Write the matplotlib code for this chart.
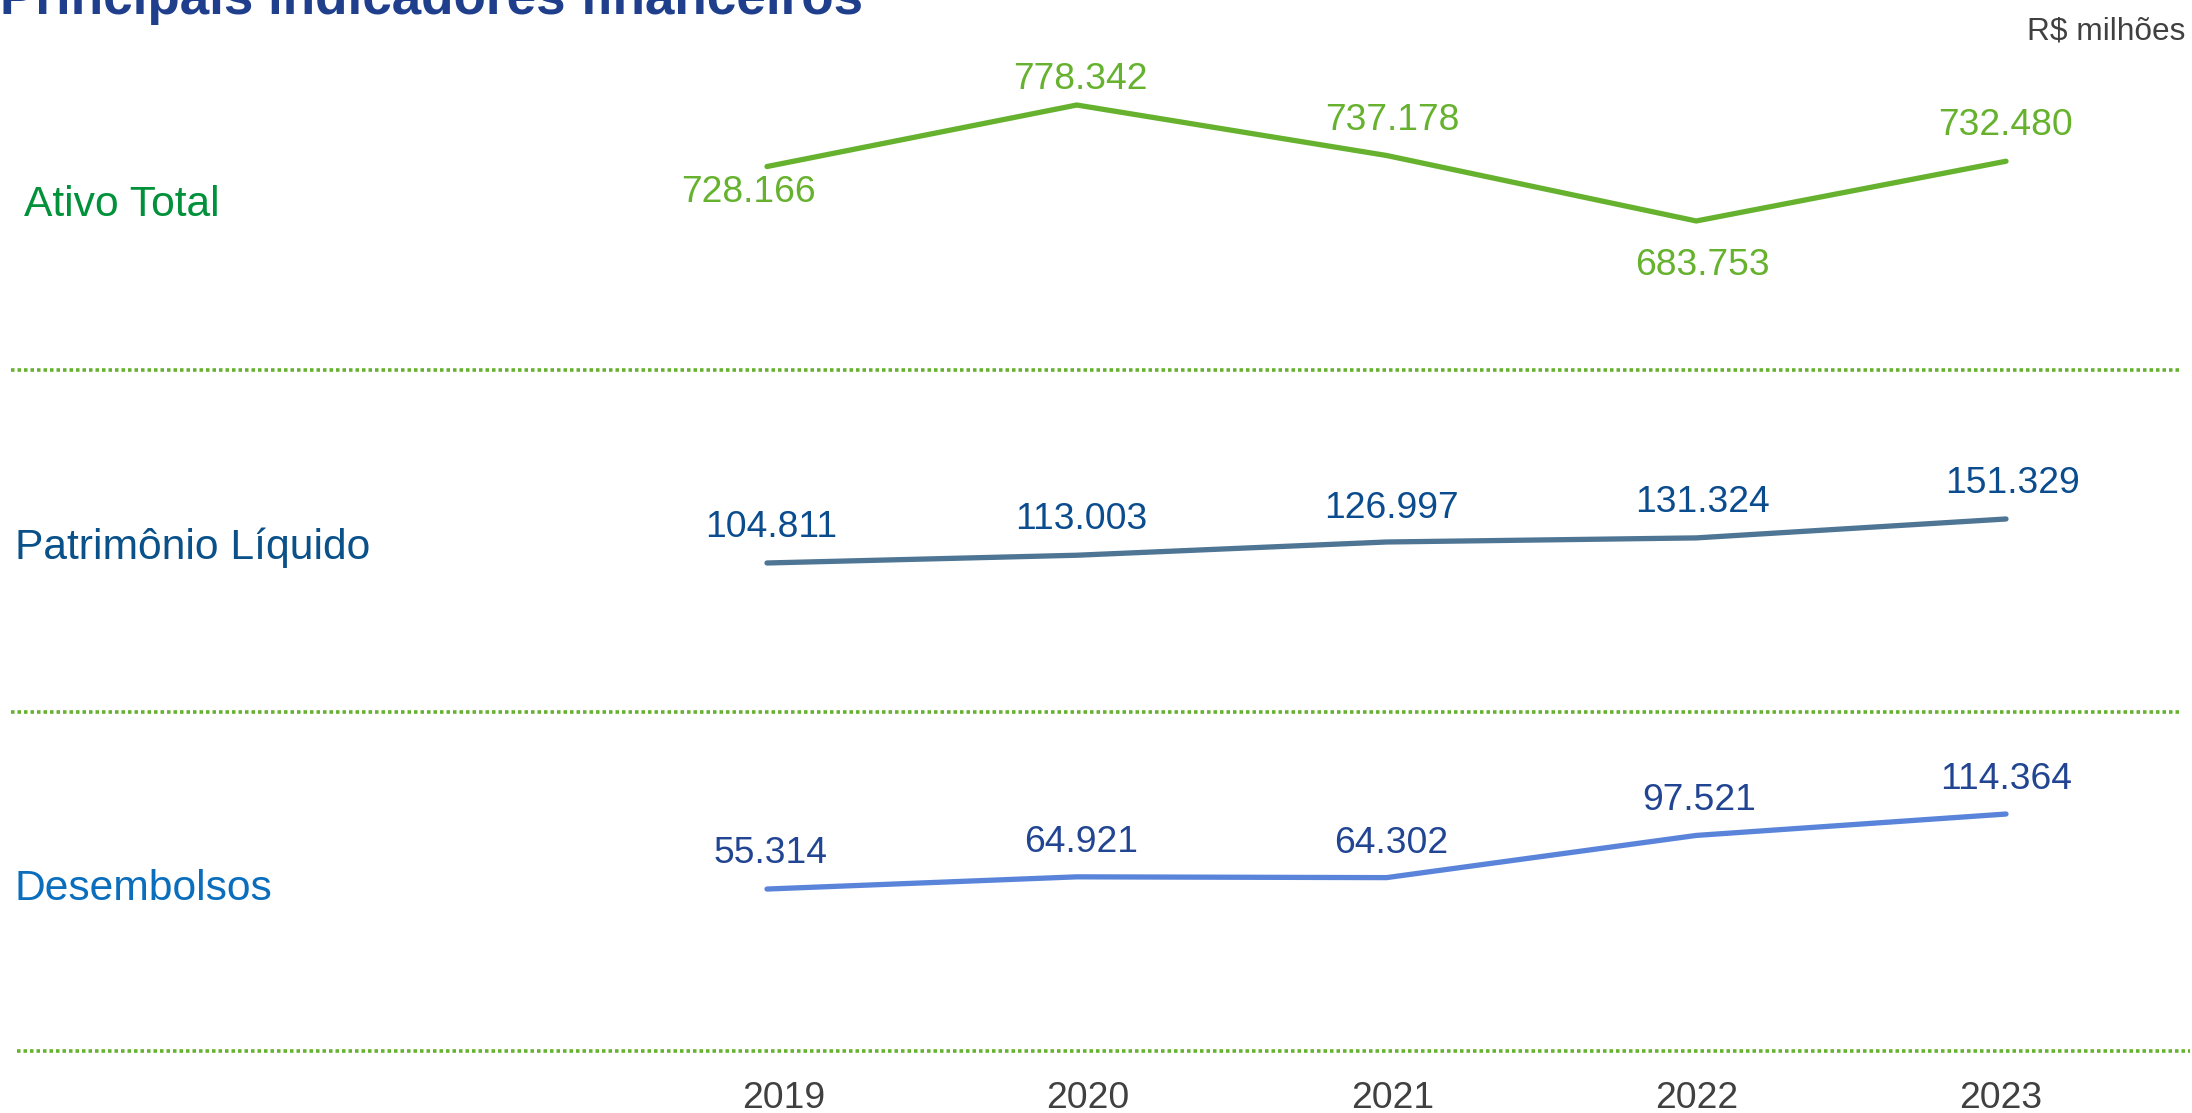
import matplotlib
matplotlib.use("Agg")
import matplotlib.pyplot as plt
from matplotlib.lines import Line2D

plt.rcParams['font.family'] = ['Liberation Sans', 'DejaVu Sans']

# data (R$ milhões)
years = ['2019', '2020', '2021', '2022', '2023']
ativo_total = [728.166, 778.342, 737.178, 683.753, 732.480]
patrimonio_liquido = [104.811, 113.003, 126.997, 131.324, 151.329]
desembolsos = [55.314, 64.921, 64.302, 97.521, 114.364]

row_names = ['Ativo Total', 'Patrimônio Líquido', 'Desembolsos']
title = 'Principais indicadores financeiros'
unit = 'R$ milhões'

# layout / style
W, H = 2192, 1113
PX = 0.72  # points per pixel at dpi 100

GREEN_LINE = '#66B22F'
GREEN_LABEL = '#00913A'
PL_LINE = '#4E7594'
PL_TEXT = '#0B4C8E'
PL_LABEL = '#0A5089'
DES_LINE = '#5A84DA'
DES_TEXT = '#214592'
DES_LABEL = '#0A6EBD'
GREY = '#404040'
TITLE_BLUE = '#1F3F8C'

# panel: (top px, bottom px, ylim, line colour, value colour, value label offsets in px)
panels = [
    (0, 370, (562.2, 864.0), GREEN_LINE, GREEN_LINE,
     [(-19, -35), (4, 16), (6, 25), (6, -54), (0, 26)]),
    (370, 712, (-52.7, 308.8), PL_LINE, PL_TEXT,
     [(4, 26), (4, 26), (5, 24), (6, 26), (6, 26)]),
    (712, 1051, (-72.2, 194.7), DES_LINE, DES_TEXT,
     [(4, 26), (4, 25), (5, 25), (3, 25), (0, 25)]),
]
series = [ativo_total, patrimonio_liquido, desembolsos]

# x placement: 2019 -> 767 px, 2023 -> 2006 px
step = (2006 - 767) / 4
xlim = (-767 / step, (W - 767) / step)

fig = plt.figure(figsize=(W / 100, H / 100), dpi=100)

x = list(range(len(years)))
for (top, bot, ylim, lc, tc, offs), vals in zip(panels, series):
    ax = fig.add_axes([0, 1 - bot / H, 1, (bot - top) / H])
    ax.set_xlim(*xlim)
    ax.set_ylim(*ylim)
    ax.axis('off')
    ax.plot(x, vals, color=lc, lw=3.8, solid_capstyle='round',
            solid_joinstyle='miter', clip_on=False)
    for xi, v, (dx, dy) in zip(x, vals, offs):
        ax.annotate(f'{v:.3f}', (xi, v), xytext=(dx * PX, dy * PX),
                    textcoords='offset points', ha='center', va='baseline',
                    fontsize=26.8, color=tc, annotation_clip=False)

# dotted separators
for yp, x0, x1 in [(370, 11, 2181), (712, 11, 2181), (1051, 17, 2190)]:
    fig.add_artist(Line2D([x0 / W, x1 / W], [1 - yp / H, 1 - yp / H],
                          color=GREEN_LINE, lw=2.6, linestyle=(0, (0.97, 0.83)),
                          dash_capstyle='butt'))

# year row
step_y = (2001 - 784) / 4
axy = fig.add_axes([0, 0, 1, 1 - 1051 / H])
axy.set_xlim(-784 / step_y, (W - 784) / step_y)
axy.set_ylim(0, 1)
axy.axis('off')
for xi, yr in zip(x, years):
    axy.text(xi, (1113 - 1108) / 62, yr, ha='center', va='baseline',
             fontsize=26.8, color=GREY)

# row labels
for name, (lx, ly), col in zip(row_names, [(24, 216), (15, 559), (15, 900)],
                               [GREEN_LABEL, PL_LABEL, DES_LABEL]):
    fig.text(lx / W, 1 - ly / H, name, ha='left', va='baseline',
             fontsize=30.7, color=col)

fig.text(0, 1 - 14 / H, title, ha='left', va='baseline', fontsize=38.2,
         fontweight='bold', color=TITLE_BLUE)
fig.text(2185 / W, 1 - 39 / H, unit, ha='right', va='baseline',
         fontsize=22.8, color=GREY)

fig.savefig('out.png', dpi=100)
